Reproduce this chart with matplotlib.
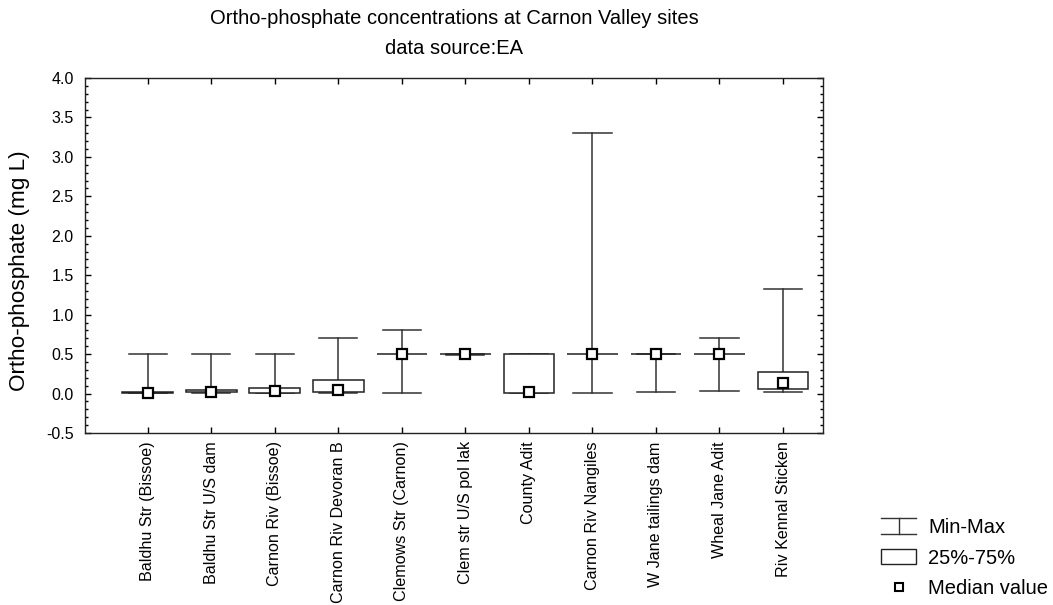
import numpy as np
import matplotlib
matplotlib.use("Agg")
import matplotlib.pyplot as plt
from matplotlib.patches import Rectangle, Patch
from matplotlib.lines import Line2D
from matplotlib.legend_handler import HandlerBase
from matplotlib.ticker import MultipleLocator

plt.rcParams['font.family'] = ['Liberation Sans', 'DejaVu Sans']

# ortho-phosphate summary per site (mg/L)
sites = ['Baldhu Str (Bissoe)', 'Baldhu Str U/S dam', 'Carnon Riv (Bissoe)',
         'Carnon Riv Devoran B', 'Clemows Str (Carnon)', 'Clem str U/S pol lak',
         'County Adit', 'Carnon Riv Nangiles', 'W Jane tailings dam',
         'Wheal Jane Adit', 'Riv Kennal Sticken']
mins    = [0.005, 0.005, 0.010, 0.010, 0.005, 0.49, 0.005, 0.005, 0.015, 0.030, 0.020]
q25     = [0.005, 0.015, 0.010, 0.015, 0.500, 0.50, 0.005, 0.500, 0.500, 0.500, 0.060]
medians = [0.010, 0.020, 0.030, 0.045, 0.500, 0.50, 0.025, 0.500, 0.500, 0.500, 0.130]
q75     = [0.020, 0.045, 0.075, 0.170, 0.500, 0.50, 0.500, 0.500, 0.500, 0.500, 0.270]
maxs    = [0.500, 0.500, 0.500, 0.700, 0.800, 0.50, 0.500, 3.300, 0.500, 0.700, 1.320]

line_col = '#333333'

fig = plt.figure(figsize=(10.53, 6.05), dpi=100)
ax = fig.add_axes([0.0807, 0.2843, 0.7009, 0.5867])

for i in range(len(sites)):
    # whisker and caps
    ax.plot([i, i], [mins[i], maxs[i]], color=line_col, lw=1.1, zorder=2)
    ax.plot([i - 0.3, i + 0.3], [maxs[i], maxs[i]], color=line_col, lw=1.1, zorder=2)
    ax.plot([i - 0.3, i + 0.3], [mins[i], mins[i]], color=line_col, lw=1.1, zorder=2)
    # interquartile box
    ax.add_patch(Rectangle((i - 0.4, q25[i]), 0.8, q75[i] - q25[i],
                           facecolor='white', edgecolor='#222222', lw=1.1, zorder=3))
    ax.plot(i, medians[i], marker='s', ms=7, mfc='white', mec='black', mew=1.6,
            ls='none', zorder=4)

ax.set_xlim(-0.99, 10.63)
ax.set_ylim(-0.5, 4.0)
ax.set_xticks(range(len(sites)))
ax.set_xticklabels(sites, rotation=90, fontsize=11.6)
ax.set_yticks(np.arange(-0.5, 4.01, 0.5))
ax.set_yticklabels(['%.1f' % v for v in np.arange(-0.5, 4.01, 0.5)], fontsize=11.5)
ax.yaxis.set_minor_locator(MultipleLocator(0.1))
ax.tick_params(which='both', direction='in', top=True, right=True, width=1)
ax.tick_params(which='major', length=4)
ax.tick_params(axis='y', which='major', pad=8)
ax.tick_params(axis='x', which='major', pad=6)
ax.tick_params(which='minor', length=2)
for s in ax.spines.values():
    s.set_linewidth(1)
    s.set_color('#222222')

fig.text(454 / 1053, 1 - 18 / 605, 'Ortho-phosphate concentrations at Carnon Valley sites',
         ha='center', va='center', fontsize=14.5)
fig.text(454 / 1053, 1 - 49 / 605, 'data source:EA', ha='center', va='center', fontsize=14.5)
fig.text(20 / 1053, 1 - 271 / 605, 'Ortho-phosphate (mg L)', rotation=90,
         ha='center', va='center', fontsize=16.2)


class MinMaxHandler(HandlerBase):
    def create_artists(self, legend, orig_handle, xdescent, ydescent,
                       width, height, fontsize, trans):
        x0, x1 = -xdescent, -xdescent + width
        y0, y1 = -ydescent, -ydescent + height
        xm = (x0 + x1) / 2
        parts = [Line2D([x0, x1], [y1, y1]), Line2D([x0, x1], [y0, y0]),
                 Line2D([xm, xm], [y0, y1])]
        for p in parts:
            p.set_color(line_col)
            p.set_linewidth(1)
            p.set_transform(trans)
        return parts


h_range = Line2D([], [])
h_box = Patch(facecolor='white', edgecolor='#222222', lw=1)
h_med = Line2D([], [], marker='s', ms=6, mfc='white', mec='black', mew=1.5, ls='none')
fig.legend([h_range, h_box, h_med], ['Min-Max', '25%-75%', 'Median value'],
           handler_map={h_range: MinMaxHandler()},
           loc='center left', bbox_to_anchor=(881 / 1053, 1 - 558 / 605),
           frameon=False, fontsize=14.5, borderpad=0, borderaxespad=0,
           handlelength=1.75, handleheight=0.8, handletextpad=0.6, labelspacing=0.58)

fig.savefig('out.png', dpi=100)
